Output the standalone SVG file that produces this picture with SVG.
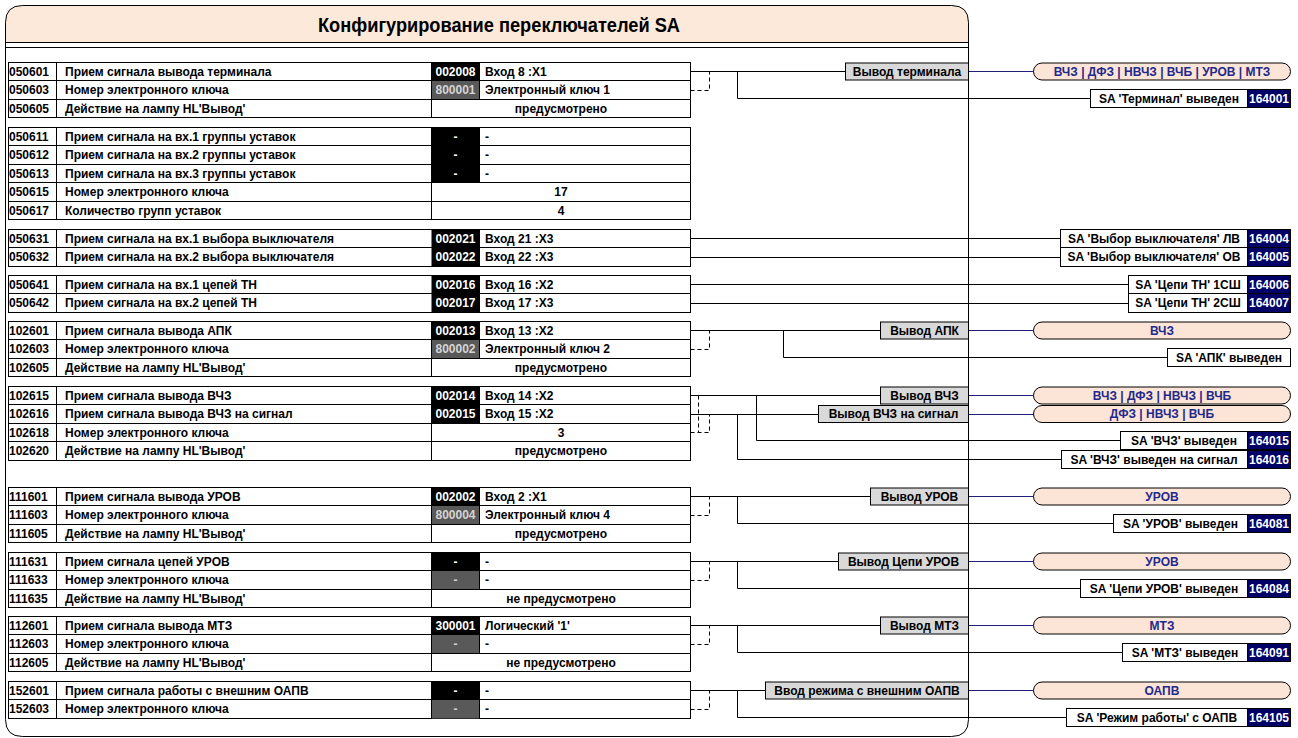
<svg xmlns="http://www.w3.org/2000/svg" width="1298" height="738" viewBox="0 0 1298 738">
<style>
.t{font-family:"Liberation Sans Narrow","Arial Narrow","Liberation Sans",Arial,sans-serif;font-weight:bold;font-size:12px;fill:#000}
.c{text-anchor:middle}
.w{fill:#fff}
.lg{fill:#d4d4d4}
.bt{fill:#1f2a8c}
.tb{fill:#fff;stroke:#000;stroke-width:1}
.ln{stroke:#000;stroke-width:1;fill:none}
.ds{stroke:#000;stroke-width:1;stroke-dasharray:4,3;fill:none}
.bl{stroke:#1f1f7a;stroke-width:1;fill:none}
.gb{fill:#d9d9d9;stroke:#000;stroke-width:1}
.pl{fill:#fce4d6;stroke:#000;stroke-width:1}
.sb{fill:#fff;stroke:#000;stroke-width:1}
.nv{fill:#000066;stroke:#000;stroke-width:1}
.bk{fill:#000}
.dg{fill:#595959}
</style>
<rect width="1298" height="738" fill="#fff"/>
<g id="frame">
<path d="M5.5,42.5 V22.5 Q5.5,5.5 22.5,5.5 H951.5 Q968.5,5.5 968.5,22.5 V42.5 Z" fill="#fde9d9" stroke="none"/>
<path d="M22.5,5.5 H951.5 Q968.5,5.5 968.5,22.5 V719.5 Q968.5,736.5 951.5,736.5 H22.5 Q5.5,736.5 5.5,719.5 V22.5 Q5.5,5.5 22.5,5.5 Z" class="ln"/>
<path d="M5.5,42.5 H968.5 M5.5,47.5 H968.5" class="ln"/>
<text x="499" y="32" class="t c" style="font-size:21px" textLength="362" lengthAdjust="spacingAndGlyphs">Конфигурирование переключателей SA</text>
</g>

<g id="table-050601">
<rect x="8.5" y="62.5" width="682" height="55" class="tb"/>
<rect x="431.5" y="62.5" width="48" height="18" class="bk"/>
<rect x="431.5" y="80.5" width="48" height="19" class="dg"/>
<path d="M8.5,80.5 H690.5 M8.5,99.5 H690.5 M56.5,62.5 V117.5 M431.5,62.5 V117.5 M479.5,62.5 V99.5" class="ln"/>
<text x="9" y="75.5" class="t">050601</text><text x="65" y="75.5" class="t">Прием сигнала вывода терминала</text><text x="455.5" y="75.5" class="t c w">002008</text><text x="485" y="75.5" class="t">Вход 8 :X1</text>
<text x="9" y="94" class="t">050603</text><text x="65" y="94" class="t">Номер электронного ключа</text><text x="455.5" y="94" class="t c lg">800001</text><text x="485" y="94" class="t">Электронный ключ 1</text>
<text x="9" y="112.5" class="t">050605</text><text x="65" y="112.5" class="t">Действие на лампу HL'Вывод'</text><text x="561" y="112.5" class="t c">предусмотрено</text>
</g>

<g id="table-050611">
<rect x="8.5" y="127.5" width="682" height="92" class="tb"/>
<rect x="431.5" y="127.5" width="48" height="55" class="bk"/>
<path d="M8.5,145.5 H690.5 M8.5,164.5 H690.5 M8.5,182.5 H690.5 M8.5,201.5 H690.5 M56.5,127.5 V219.5 M431.5,127.5 V219.5 M479.5,127.5 V182.5" class="ln"/>
<text x="9" y="140.5" class="t">050611</text><text x="65" y="140.5" class="t">Прием сигнала на вх.1 группы уставок</text><text x="455.5" y="140.5" class="t c w">-</text><text x="485" y="140.5" class="t">-</text>
<text x="9" y="159" class="t">050612</text><text x="65" y="159" class="t">Прием сигнала на вх.2 группы уставок</text><text x="455.5" y="159" class="t c w">-</text><text x="485" y="159" class="t">-</text>
<text x="9" y="177.5" class="t">050613</text><text x="65" y="177.5" class="t">Прием сигнала на вх.3 группы уставок</text><text x="455.5" y="177.5" class="t c w">-</text><text x="485" y="177.5" class="t">-</text>
<text x="9" y="196" class="t">050615</text><text x="65" y="196" class="t">Номер электронного ключа</text><text x="561" y="196" class="t c">17</text>
<text x="9" y="214.5" class="t">050617</text><text x="65" y="214.5" class="t">Количество групп уставок</text><text x="561" y="214.5" class="t c">4</text>
</g>

<g id="table-050631">
<rect x="8.5" y="229.5" width="682" height="37" class="tb"/>
<rect x="431.5" y="229.5" width="48" height="37" class="bk"/>
<path d="M8.5,247.5 H690.5 M56.5,229.5 V266.5 M479.5,229.5 V266.5" class="ln"/>
<text x="9" y="242.5" class="t">050631</text><text x="65" y="242.5" class="t">Прием сигнала на вх.1 выбора выключателя</text><text x="455.5" y="242.5" class="t c w">002021</text><text x="485" y="242.5" class="t">Вход 21 :X3</text>
<text x="9" y="261" class="t">050632</text><text x="65" y="261" class="t">Прием сигнала на вх.2 выбора выключателя</text><text x="455.5" y="261" class="t c w">002022</text><text x="485" y="261" class="t">Вход 22 :X3</text>
</g>

<g id="table-050641">
<rect x="8.5" y="275.5" width="682" height="37" class="tb"/>
<rect x="431.5" y="275.5" width="48" height="37" class="bk"/>
<path d="M8.5,293.5 H690.5 M56.5,275.5 V312.5 M479.5,275.5 V312.5" class="ln"/>
<text x="9" y="288.5" class="t">050641</text><text x="65" y="288.5" class="t">Прием сигнала на вх.1 цепей ТН</text><text x="455.5" y="288.5" class="t c w">002016</text><text x="485" y="288.5" class="t">Вход 16 :X2</text>
<text x="9" y="307" class="t">050642</text><text x="65" y="307" class="t">Прием сигнала на вх.2 цепей ТН</text><text x="455.5" y="307" class="t c w">002017</text><text x="485" y="307" class="t">Вход 17 :X3</text>
</g>

<g id="table-102601">
<rect x="8.5" y="321.5" width="682" height="55" class="tb"/>
<rect x="431.5" y="321.5" width="48" height="18" class="bk"/>
<rect x="431.5" y="339.5" width="48" height="19" class="dg"/>
<path d="M8.5,339.5 H690.5 M8.5,358.5 H690.5 M56.5,321.5 V376.5 M431.5,321.5 V376.5 M479.5,321.5 V358.5" class="ln"/>
<text x="9" y="334.5" class="t">102601</text><text x="65" y="334.5" class="t">Прием сигнала вывода АПК</text><text x="455.5" y="334.5" class="t c w">002013</text><text x="485" y="334.5" class="t">Вход 13 :X2</text>
<text x="9" y="353" class="t">102603</text><text x="65" y="353" class="t">Номер электронного ключа</text><text x="455.5" y="353" class="t c lg">800002</text><text x="485" y="353" class="t">Электронный ключ 2</text>
<text x="9" y="371.5" class="t">102605</text><text x="65" y="371.5" class="t">Действие на лампу HL'Вывод'</text><text x="561" y="371.5" class="t c">предусмотрено</text>
</g>

<g id="table-102615">
<rect x="8.5" y="386.5" width="682" height="74" class="tb"/>
<rect x="431.5" y="386.5" width="48" height="37" class="bk"/>
<path d="M8.5,404.5 H690.5 M8.5,423.5 H690.5 M8.5,441.5 H690.5 M56.5,386.5 V460.5 M431.5,386.5 V460.5 M479.5,386.5 V423.5" class="ln"/>
<text x="9" y="399.5" class="t">102615</text><text x="65" y="399.5" class="t">Прием сигнала вывода ВЧЗ</text><text x="455.5" y="399.5" class="t c w">002014</text><text x="485" y="399.5" class="t">Вход 14 :X2</text>
<text x="9" y="418" class="t">102616</text><text x="65" y="418" class="t">Прием сигнала вывода ВЧЗ на сигнал</text><text x="455.5" y="418" class="t c w">002015</text><text x="485" y="418" class="t">Вход 15 :X2</text>
<text x="9" y="436.5" class="t">102618</text><text x="65" y="436.5" class="t">Номер электронного ключа</text><text x="561" y="436.5" class="t c">3</text>
<text x="9" y="455" class="t">102620</text><text x="65" y="455" class="t">Действие на лампу HL'Вывод'</text><text x="561" y="455" class="t c">предусмотрено</text>
</g>

<g id="table-111601">
<rect x="8.5" y="487.5" width="682" height="55" class="tb"/>
<rect x="431.5" y="487.5" width="48" height="18" class="bk"/>
<rect x="431.5" y="505.5" width="48" height="19" class="dg"/>
<path d="M8.5,505.5 H690.5 M8.5,524.5 H690.5 M56.5,487.5 V542.5 M431.5,487.5 V542.5 M479.5,487.5 V524.5" class="ln"/>
<text x="9" y="500.5" class="t">111601</text><text x="65" y="500.5" class="t">Прием сигнала вывода УРОВ</text><text x="455.5" y="500.5" class="t c w">002002</text><text x="485" y="500.5" class="t">Вход 2 :X1</text>
<text x="9" y="519" class="t">111603</text><text x="65" y="519" class="t">Номер электронного ключа</text><text x="455.5" y="519" class="t c lg">800004</text><text x="485" y="519" class="t">Электронный ключ 4</text>
<text x="9" y="537.5" class="t">111605</text><text x="65" y="537.5" class="t">Действие на лампу HL'Вывод'</text><text x="561" y="537.5" class="t c">предусмотрено</text>
</g>

<g id="table-111631">
<rect x="8.5" y="552.5" width="682" height="55" class="tb"/>
<rect x="431.5" y="552.5" width="48" height="18" class="bk"/>
<rect x="431.5" y="570.5" width="48" height="19" class="dg"/>
<path d="M8.5,570.5 H690.5 M8.5,589.5 H690.5 M56.5,552.5 V607.5 M431.5,552.5 V607.5 M479.5,552.5 V589.5" class="ln"/>
<text x="9" y="565.5" class="t">111631</text><text x="65" y="565.5" class="t">Прием сигнала цепей УРОВ</text><text x="455.5" y="565.5" class="t c w">-</text><text x="485" y="565.5" class="t">-</text>
<text x="9" y="584" class="t">111633</text><text x="65" y="584" class="t">Номер электронного ключа</text><text x="455.5" y="584" class="t c lg">-</text><text x="485" y="584" class="t">-</text>
<text x="9" y="602.5" class="t">111635</text><text x="65" y="602.5" class="t">Действие на лампу HL'Вывод'</text><text x="561" y="602.5" class="t c">не предусмотрено</text>
</g>

<g id="table-112601">
<rect x="8.5" y="616.5" width="682" height="55" class="tb"/>
<rect x="431.5" y="616.5" width="48" height="18" class="bk"/>
<rect x="431.5" y="634.5" width="48" height="19" class="dg"/>
<path d="M8.5,634.5 H690.5 M8.5,653.5 H690.5 M56.5,616.5 V671.5 M431.5,616.5 V671.5 M479.5,616.5 V653.5" class="ln"/>
<text x="9" y="629.5" class="t">112601</text><text x="65" y="629.5" class="t">Прием сигнала вывода МТЗ</text><text x="455.5" y="629.5" class="t c w">300001</text><text x="485" y="629.5" class="t">Логический '1'</text>
<text x="9" y="648" class="t">112603</text><text x="65" y="648" class="t">Номер электронного ключа</text><text x="455.5" y="648" class="t c lg">-</text><text x="485" y="648" class="t">-</text>
<text x="9" y="666.5" class="t">112605</text><text x="65" y="666.5" class="t">Действие на лампу HL'Вывод'</text><text x="561" y="666.5" class="t c">не предусмотрено</text>
</g>

<g id="table-152601">
<rect x="8.5" y="681.5" width="682" height="37" class="tb"/>
<rect x="431.5" y="681.5" width="48" height="18" class="bk"/>
<rect x="431.5" y="699.5" width="48" height="19" class="dg"/>
<path d="M8.5,699.5 H690.5 M56.5,681.5 V718.5 M431.5,681.5 V718.5 M479.5,681.5 V718.5" class="ln"/>
<text x="9" y="694.5" class="t">152601</text><text x="65" y="694.5" class="t">Прием сигнала работы с внешним ОАПВ</text><text x="455.5" y="694.5" class="t c w">-</text><text x="485" y="694.5" class="t">-</text>
<text x="9" y="713" class="t">152603</text><text x="65" y="713" class="t">Номер электронного ключа</text><text x="455.5" y="713" class="t c lg">-</text><text x="485" y="713" class="t">-</text>
</g>

<g id="connectors">
<path class="ln" d="M690.5,71.5 H845.5 M737.5,71.5 V98.5 H1090.5"/>
<path class="ds" d="M690.5,90.5 H709.5 V71.5"/>
<path class="ln" d="M690.5,238.5 H1060.5 M690.5,257.5 H1060.5"/>
<path class="ln" d="M690.5,284.5 H1128.5 M690.5,303.5 H1128.5"/>
<path class="ln" d="M690.5,330.5 H880.5 M783.5,330.5 V357.5 H1167.5"/>
<path class="ds" d="M690.5,349.5 H709.5 V330.5"/>
<path class="ln" d="M690.5,395.5 H880.5 M690.5,414.5 H818.5 M756.5,395.5 V440.5 H1120.5 M737.5,414.5 V459.5 H1061.5"/>
<path class="ds" d="M690.5,432.5 H709.5 V414.5 M698.5,395.5 V432.5"/>
<path class="ln" d="M690.5,496.5 H870.5 M737.5,496.5 V523.5 H1113.5"/>
<path class="ds" d="M690.5,515.5 H709.5 V496.5"/>
<path class="ln" d="M690.5,561.5 H838.5 M737.5,561.5 V588.5 H1080.5"/>
<path class="ds" d="M690.5,580.5 H709.5 V561.5"/>
<path class="ln" d="M690.5,625.5 H880.5 M737.5,625.5 V652.5 H1122.5"/>
<path class="ds" d="M690.5,644.5 H709.5 V625.5"/>
<path class="ln" d="M690.5,690.5 H765.5 M737.5,690.5 V717.5 H1066.5"/>
<path class="ds" d="M690.5,709.5 H709.5 V690.5"/>
<path class="bl" d="M968.5,71.5 H1033.5 M968.5,330.5 H1033.5 M968.5,395.5 H1033.5 M968.5,414.5 H1033.5 M968.5,496.5 H1033.5 M968.5,561.5 H1033.5 M968.5,625.5 H1033.5 M968.5,690.5 H1033.5"/>
</g>

<g id="sw-terminal">
<rect x="845.5" y="63" width="123" height="17" class="gb"/><text x="907" y="75.5" class="t c">Вывод терминала</text>
<rect x="1033.5" y="63" width="257" height="17" rx="8.5" class="pl"/><text x="1162" y="75.5" class="t c bt">ВЧЗ | ДФЗ | НВЧЗ | ВЧБ | УРОВ | МТЗ</text>
<rect x="1090.5" y="89.5" width="157" height="18" class="sb"/><text x="1169" y="102.5" class="t c">SA 'Терминал' выведен</text>
<rect x="1247.5" y="89.5" width="43" height="18" class="nv"/><text x="1269" y="102.5" class="t c w">164001</text>
</g>

<g id="sa-164004">
<rect x="1060.5" y="229.5" width="187" height="18" class="sb"/><text x="1154" y="242.5" class="t c">SA 'Выбор выключателя' ЛВ</text>
<rect x="1247.5" y="229.5" width="43" height="18" class="nv"/><text x="1269" y="242.5" class="t c w">164004</text>
</g>
<g id="sa-164005">
<rect x="1060.5" y="247.5" width="187" height="19" class="sb"/><text x="1154" y="261" class="t c">SA 'Выбор выключателя' ОВ</text>
<rect x="1247.5" y="247.5" width="43" height="19" class="nv"/><text x="1269" y="261" class="t c w">164005</text>
</g>
<g id="sa-164006">
<rect x="1128.5" y="275.5" width="119" height="18" class="sb"/><text x="1188" y="288.5" class="t c">SA 'Цепи ТН' 1СШ</text>
<rect x="1247.5" y="275.5" width="43" height="18" class="nv"/><text x="1269" y="288.5" class="t c w">164006</text>
</g>
<g id="sa-164007">
<rect x="1128.5" y="293.5" width="119" height="19" class="sb"/><text x="1188" y="307" class="t c">SA 'Цепи ТН' 2СШ</text>
<rect x="1247.5" y="293.5" width="43" height="19" class="nv"/><text x="1269" y="307" class="t c w">164007</text>
</g>

<g id="sw-apk">
<rect x="880.5" y="322" width="88" height="17" class="gb"/><text x="924.5" y="334.5" class="t c">Вывод АПК</text>
<rect x="1033.5" y="322" width="257" height="17" rx="8.5" class="pl"/><text x="1162" y="334.5" class="t c bt">ВЧЗ</text>
<rect x="1167.5" y="348.5" width="123" height="18" class="sb"/><text x="1229" y="361.5" class="t c">SA 'АПК' выведен</text>
</g>

<g id="sw-vchz">
<rect x="880.5" y="387" width="88" height="17" class="gb"/><text x="924.5" y="399.5" class="t c">Вывод ВЧЗ</text>
<rect x="1033.5" y="387" width="257" height="17" rx="8.5" class="pl"/><text x="1162" y="399.5" class="t c bt">ВЧЗ | ДФЗ | НВЧЗ | ВЧБ</text>
<rect x="1120.5" y="431.5" width="127" height="18" class="sb"/><text x="1184" y="444.5" class="t c">SA 'ВЧЗ' выведен</text>
<rect x="1247.5" y="431.5" width="43" height="18" class="nv"/><text x="1269" y="444.5" class="t c w">164015</text>
</g>
<g id="sw-vchz-sig">
<rect x="818.5" y="405.5" width="150" height="17" class="gb"/><text x="893.5" y="418" class="t c">Вывод ВЧЗ на сигнал</text>
<rect x="1033.5" y="405.5" width="257" height="17" rx="8.5" class="pl"/><text x="1162" y="418" class="t c bt">ДФЗ | НВЧЗ | ВЧБ</text>
<rect x="1061.5" y="450.5" width="186" height="18" class="sb"/><text x="1154" y="463.5" class="t c">SA 'ВЧЗ' выведен на сигнал</text>
<rect x="1247.5" y="450.5" width="43" height="18" class="nv"/><text x="1269" y="463.5" class="t c w">164016</text>
</g>

<g id="sw-urov">
<rect x="870.5" y="488" width="98" height="17" class="gb"/><text x="919.5" y="500.5" class="t c">Вывод УРОВ</text>
<rect x="1033.5" y="488" width="257" height="17" rx="8.5" class="pl"/><text x="1162" y="500.5" class="t c bt">УРОВ</text>
<rect x="1113.5" y="514.5" width="134" height="18" class="sb"/><text x="1180.5" y="527.5" class="t c">SA 'УРОВ' выведен</text>
<rect x="1247.5" y="514.5" width="43" height="18" class="nv"/><text x="1269" y="527.5" class="t c w">164081</text>
</g>

<g id="sw-urov-circ">
<rect x="838.5" y="553" width="130" height="17" class="gb"/><text x="903.5" y="565.5" class="t c">Вывод Цепи УРОВ</text>
<rect x="1033.5" y="553" width="257" height="17" rx="8.5" class="pl"/><text x="1162" y="565.5" class="t c bt">УРОВ</text>
<rect x="1080.5" y="579.5" width="167" height="18" class="sb"/><text x="1164" y="592.5" class="t c">SA 'Цепи УРОВ' выведен</text>
<rect x="1247.5" y="579.5" width="43" height="18" class="nv"/><text x="1269" y="592.5" class="t c w">164084</text>
</g>

<g id="sw-mtz">
<rect x="880.5" y="617" width="88" height="17" class="gb"/><text x="924.5" y="629.5" class="t c">Вывод МТЗ</text>
<rect x="1033.5" y="617" width="257" height="17" rx="8.5" class="pl"/><text x="1162" y="629.5" class="t c bt">МТЗ</text>
<rect x="1122.5" y="643.5" width="125" height="18" class="sb"/><text x="1185" y="656.5" class="t c">SA 'МТЗ' выведен</text>
<rect x="1247.5" y="643.5" width="43" height="18" class="nv"/><text x="1269" y="656.5" class="t c w">164091</text>
</g>

<g id="sw-oapv">
<rect x="765.5" y="682" width="203" height="17" class="gb"/><text x="867" y="694.5" class="t c">Ввод режима с внешним ОАПВ</text>
<rect x="1033.5" y="682" width="257" height="17" rx="8.5" class="pl"/><text x="1162" y="694.5" class="t c bt">ОАПВ</text>
<rect x="1066.5" y="708.5" width="181" height="18" class="sb"/><text x="1157" y="721.5" class="t c">SA 'Режим работы' с ОАПВ</text>
<rect x="1247.5" y="708.5" width="43" height="18" class="nv"/><text x="1269" y="721.5" class="t c w">164105</text>
</g>
</svg>
